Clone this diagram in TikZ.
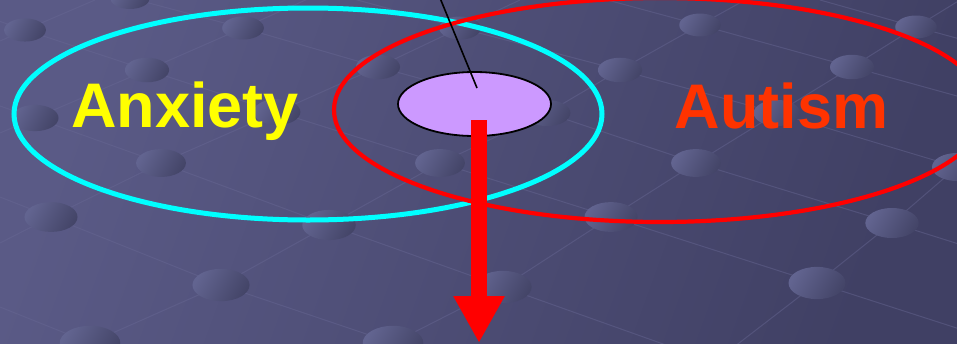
\documentclass[tikz,border=0pt]{standalone}
\usepackage{fontspec}
\setmainfont{Liberation Sans}
\usetikzlibrary{shapes.geometric,arrows.meta}
\definecolor{bgA}{RGB}{90,90,134}
\definecolor{bgB}{RGB}{64,64,100}
\definecolor{gridline}{RGB}{104,104,148}
\definecolor{dotA}{RGB}{98,100,144}
\definecolor{dotB}{RGB}{68,69,104}
\definecolor{anxcol}{RGB}{0,255,255}
\definecolor{autcol}{RGB}{255,0,0}
\definecolor{bothfill}{RGB}{204,153,255}
\definecolor{anxtext}{RGB}{255,255,0}
\definecolor{auttext}{RGB}{255,51,0}
\tikzset{
  gridstyle/.style={draw=gridline, line width=1pt, opacity=0.45},
  dotstyle/.style={left color=dotA, right color=dotB, shading angle=60},
  ring/.style={ellipse, inner sep=0pt, fill=none},
  label/.style={font=\fontsize{63}{63}\selectfont\bfseries, inner sep=0pt, anchor=base},
}
\begin{document}
\begin{tikzpicture}[x=1pt,y=-1pt]
\useasboundingbox (0,0) rectangle (957,343);
\clip (0,0) rectangle (957,343);
\shade[left color=bgA, right color=bgB, shading angle=70] (-5,-5) rectangle (962,348);
% background lattice lines
\draw[gridstyle] (-10,18) -- (25,30) -- (147,70) -- (277,112) -- (440,163) -- (611,217) -- (817,283) -- (1000,342);
\draw[gridstyle] (0,106) -- (35,118) -- (161,163) -- (329,225) -- (503,287) -- (680,350);
\draw[gridstyle] (0,197) -- (51,217) -- (221,285) -- (393,343) -- (420,352);
\draw[gridstyle] (0,307) -- (90,343) -- (120,355);
\draw[gridstyle] (100,-10) -- (130,-2) -- (243,28) -- (378,67) -- (547,113) -- (696,163) -- (892,223) -- (1000,257);
\draw[gridstyle] (350,-2) -- (460,28) -- (620,70) -- (777,113) -- (957,167) -- (1000,180);
\draw[gridstyle] (600,-2) -- (700,25) -- (852,67) -- (957,96) -- (1000,108);
\draw[gridstyle] (820,0) -- (916,27) -- (1000,50);
\draw[gridstyle] (0,41) -- (25,30) -- (95,0);
\draw[gridstyle] (0,133) -- (35,118) -- (147,70) -- (243,28) -- (310,-2);
\draw[gridstyle] (0,243) -- (51,217) -- (161,163) -- (277,112) -- (378,67) -- (460,28) -- (520,0);
\draw[gridstyle] (60,360) -- (90,343) -- (221,285) -- (329,225) -- (440,163) -- (547,113) -- (620,70) -- (700,25) -- (745,0);
\draw[gridstyle] (360,360) -- (393,343) -- (503,287) -- (611,217) -- (696,163) -- (777,113) -- (852,67) -- (916,27) -- (960,0);
\draw[gridstyle] (730,350) -- (817,283) -- (892,223) -- (957,167) -- (1000,130);
% background dots
\foreach \px/\py in {25/30,130/-2,243/28,147/70,35/118,277/112,378/67,460/28,161/163,51/217,329/225,221/285,90/343,393/343,440/163,547/113,620/70,700/25,503/287,611/217,696/163,777/113,852/67,916/27,892/223,817/283,957/167}
  \shade[dotstyle] (\px,\py) ellipse [x radius={(20+0.03*\py)*1pt}, y radius={(11+0.018*\py)*1pt}];
% main figure
\node[ring, draw=anxcol, line width=5pt, minimum width=588pt, minimum height=212pt] (anx) at (308,114) {};
\node[ring, draw=autcol, line width=4.2pt, minimum width=652pt, minimum height=224pt] (aut) at (660,110) {};
\node[ellipse, inner sep=0pt, draw=black, line width=1.8pt, fill=bothfill, minimum width=153pt, minimum height=64pt] (both) at (474.5,104) {};
\node[label, text=anxtext] (anxlabel) at (185,127) {Anxiety};
\node[label, text=auttext] (autlabel) at (781.5,128) {Autism};
\coordinate (pointerTop) at (440,-2);
\coordinate (pointerEnd) at (477,88);
\draw[black, line width=1.6pt] (pointerTop) -- (pointerEnd);
\coordinate (arrowStart) at (479,120);
\coordinate (arrowEnd) at (479,343);
\draw[autcol, line width=16pt, -{Triangle[width=48pt,length=47pt]}] (arrowStart) -- (arrowEnd);
\end{tikzpicture}
\end{document}
